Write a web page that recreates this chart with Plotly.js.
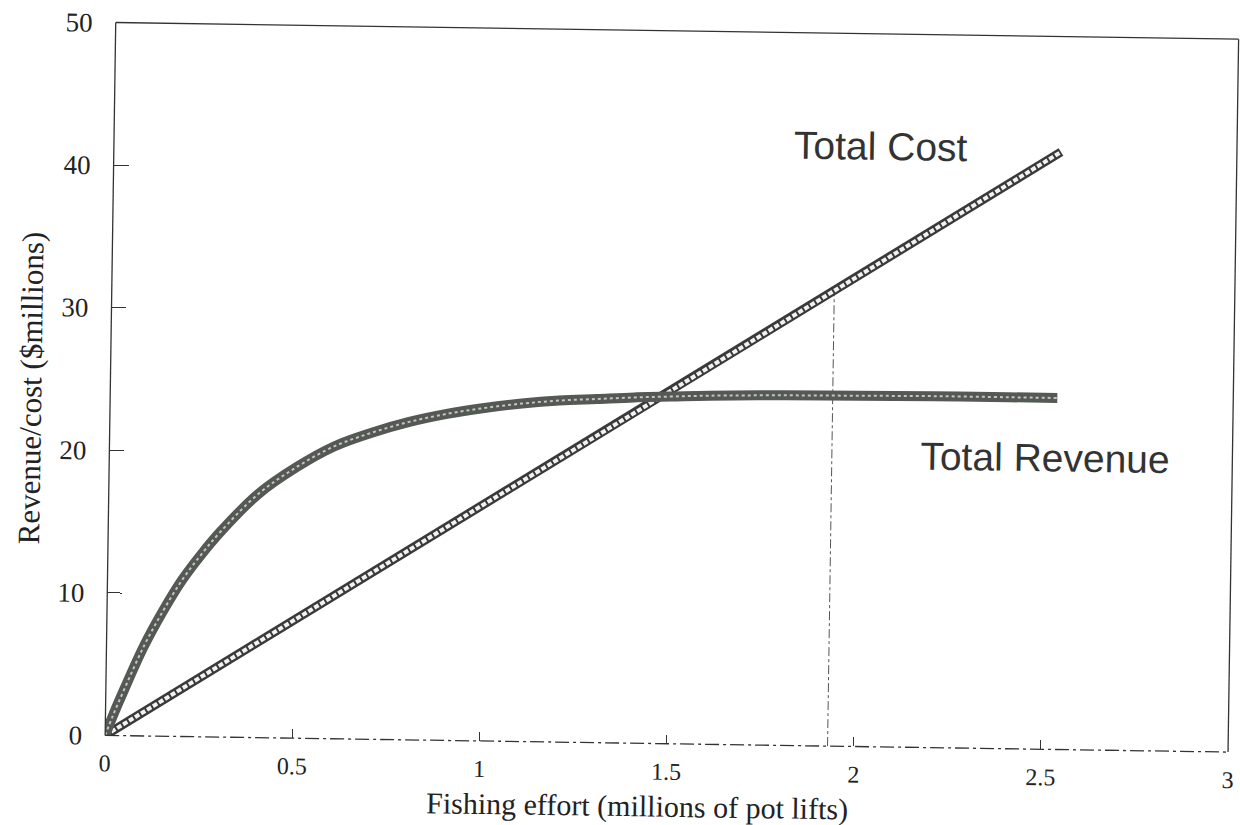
<!DOCTYPE html>
<html>
<head>
<meta charset="utf-8">
<script src="https://cdn.plot.ly/plotly-3.0.1.min.js"></script>
<style>
  html, body { margin: 0; padding: 0; background: #ffffff; overflow: hidden; }
  #chart { width: 1240px; height: 825px; transform: rotate(0.85deg); transform-origin: 620px 412.5px; }
</style>
</head>
<body>
<div id="chart"></div>
<script>
// ---- data ----
const revenueX = [0, 0.02, 0.05, 0.1, 0.15, 0.2, 0.25, 0.3, 0.4, 0.5, 0.6, 0.7, 0.8, 0.9, 1.0, 1.1, 1.2, 1.3, 1.4, 1.5, 1.6, 1.8, 2.0, 2.2, 2.4, 2.53];
const revenueY = [0, 1.4, 3.3, 6.3, 8.8, 11.0, 12.8, 14.4, 17.1, 19.0, 20.5, 21.5, 22.3, 22.9, 23.35, 23.7, 23.95, 24.1, 24.25, 24.35, 24.45, 24.55, 24.6, 24.65, 24.65, 24.65];
const costX = [0, 0.5, 1.0, 1.5, 2.0, 2.53];
const costY = [0, 8.3, 16.55, 24.8, 33.1, 41.9];
const markerX = [1.93, 1.93];
const markerY = [0, 31.9];
const xTickVals = [0, 0.5, 1, 1.5, 2, 2.5, 3];
const xTickText = ['0', '0.5', '1', '1.5', '2', '2.5', '3'];
const yTickVals = [0, 10, 20, 30, 40, 50];
const yTickText = ['0', '10', '20', '30', '40', '50'];
const labelCost = 'Total Cost';
const labelRevenue = 'Total Revenue';
const xTitle = 'Fishing effort (millions of pot lifts)';
const yTitle = 'Revenue/cost ($millions)';

const serif = 'Liberation Serif, Times New Roman, serif';
const sans = 'Liberation Sans, Arial, sans-serif';

const traces = [
  { x: markerX, y: markerY, mode: 'lines', line: { color: '#555', width: 1, dash: 'dashdot' }, hoverinfo: 'skip' },
  { x: costX, y: costY, mode: 'lines', line: { color: '#3a3a3a', width: 9 }, hoverinfo: 'skip' },
  { x: costX, y: costY, mode: 'lines', line: { color: '#f2f2f2', width: 4, dash: '5px,2px' }, hoverinfo: 'skip' },
  { x: revenueX, y: revenueY, mode: 'lines', line: { color: '#545954', width: 10, shape: 'spline' }, hoverinfo: 'skip' },
  { x: revenueX, y: revenueY, mode: 'lines', line: { color: 'rgba(215,215,215,0.85)', width: 2, dash: 'dot', shape: 'spline' }, hoverinfo: 'skip' }
];

const frame = { color: '#333', width: 1.3 };
const layout = {
  width: 1240, height: 825,
  margin: { l: 110, r: 7, t: 30, b: 82 },
  paper_bgcolor: '#ffffff', plot_bgcolor: '#ffffff',
  showlegend: false,
  xaxis: {
    range: [0, 3], showgrid: false, zeroline: false, showline: false,
    tickmode: 'array', tickvals: xTickVals, ticktext: xTickText,
    ticks: 'inside', ticklen: 9, tickcolor: '#333', tickwidth: 1,
    ticklabelstandoff: 11,
    tickfont: { family: serif, size: 24, color: '#222' }
  },
  yaxis: {
    range: [0, 50], showgrid: false, zeroline: false, showline: false,
    tickmode: 'array', tickvals: yTickVals, ticktext: yTickText,
    ticks: 'inside', ticklen: 15, tickcolor: '#333', tickwidth: 1,
    ticklabelstandoff: 22,
    tickfont: { family: serif, size: 27, color: '#222' }
  },
  shapes: [
    { type: 'line', xref: 'paper', yref: 'paper', x0: 0, x1: 0, y0: 0, y1: 1, line: frame },
    { type: 'line', xref: 'paper', yref: 'paper', x0: 0, x1: 1, y0: 1, y1: 1, line: frame },
    { type: 'line', xref: 'paper', yref: 'paper', x0: 1, x1: 1, y0: 0, y1: 1, line: frame },
    { type: 'line', xref: 'paper', yref: 'paper', x0: 0, x1: 1, y0: 0, y1: 0, line: { color: '#333', width: 1.3, dash: '14px,4px,3px,4px' } }
  ],
  annotations: [
    { text: labelCost, xref: 'x', yref: 'y', x: 2.05, y: 42.1, showarrow: false, font: { family: sans, size: 39, color: '#333' } },
    { text: labelRevenue, xref: 'x', yref: 'y', x: 2.5, y: 20.44, showarrow: false, font: { family: sans, size: 39, color: '#333' } },
    { text: xTitle, xref: 'paper', yref: 'paper', x: 0.475, y: 0, yshift: -63, yanchor: 'middle', showarrow: false, font: { family: serif, size: 30, color: '#222' } },
    { text: yTitle, xref: 'paper', yref: 'paper', x: 0, y: 0.5, xshift: -99, yshift: -10, textangle: -90, showarrow: false, font: { family: serif, size: 31, color: '#222' } }
  ]
};

Plotly.newPlot('chart', traces, layout, { staticPlot: true, displayModeBar: false });
</script>
</body>
</html>
